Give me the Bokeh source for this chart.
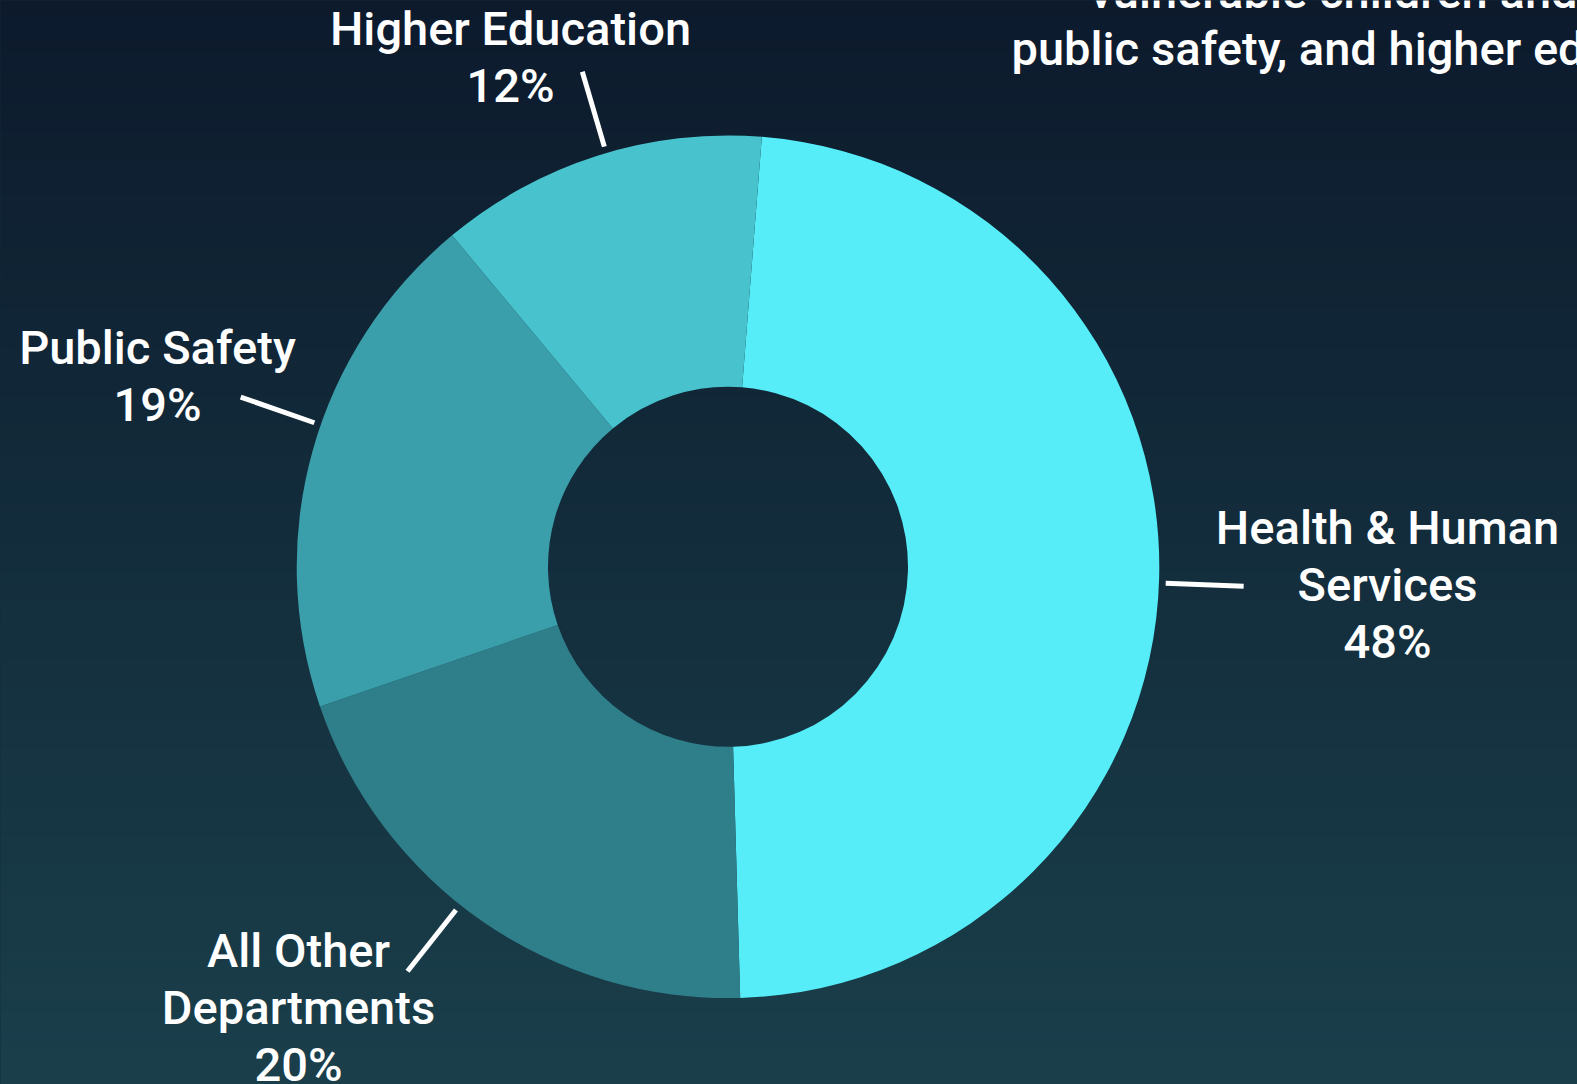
import numpy as np
from jinja2 import Template
from bokeh.plotting import figure
from bokeh.models import Range1d, ColumnDataSource
from bokeh.core.properties import value
from bokeh.embed import file_html
from bokeh.resources import INLINE

# ---------------- data ----------------
categories = ["Health & Human Services", "All Other Departments", "Public Safety", "Higher Education"]
shares = [48.3, 20.2, 19.2, 12.3]          # percent of total
pct_labels = ["48%", "20%", "19%", "12%"]
label_text = [["Health & Human", "Services"], ["All Other", "Departments"], ["Public Safety"], ["Higher Education"]]
title_lines = ["vulnerable children and families,", "public safety, and higher education."]

# ---------------- style / layout ----------------
colors = ["#57edf8", "#2f7f8b", "#3a9fab", "#48c2cc"]
W, H = 1577, 1084               # canvas (screen px)
CX, CY = 727.5, 566.3           # donut centre in screen px
R_OUT, R_IN = 431.3, 180.0
START_CW = 4.5                  # first slice starts this many degrees clockwise from 12 o'clock
FONT = value("Roboto Medium, Roboto")
FS = "47px"
LINE_H = 57
# label anchor: centre x and baseline y (screen px) of the first line
label_pos = [(1387, 527), (298, 950), (157, 347), (510, 28)]
leader_angle_cw = [92.15, 218.4, 289.2, 343.6]
LEAD_R0, LEAD_R1 = 438, 516

def sy(y):  # screen y -> data y
    return H - y

p = figure(width=W, height=H, output_backend="svg", toolbar_location=None,
           x_range=Range1d(0, W), y_range=Range1d(0, H), min_border=0)
p.axis.visible = False
p.grid.visible = False
p.outline_line_color = None
p.background_fill_color = "#132c3b"
p.border_fill_color = "#132c3b"

# background gradient
N = H
rows_sy = H - (np.arange(N) + 0.5)
t = rows_sy / H
top = np.array([12, 26, 44], dtype=float)
bot = np.array([26, 63, 75], dtype=float)
rgb = top[None, :] + (bot - top)[None, :] * t[:, None]
img = np.empty((N, 1), dtype=np.uint32)
view = img.view(dtype=np.uint8).reshape((N, 1, 4))
view[:, 0, 0:3] = np.round(rgb).astype(np.uint8)
view[:, 0, 3] = 255
p.image_rgba(image=[img], x=0, y=0, dw=W, dh=H)

# donut
cum = START_CW + np.concatenate([[0], np.cumsum(shares)]) / 100.0 * 360.0
start_math = np.radians(90 - cum[:-1])
end_math = np.radians(90 - cum[1:])
src = ColumnDataSource(dict(cat=categories, start=start_math, end=end_math, color=colors))
p.annular_wedge(x=CX, y=sy(CY), inner_radius=R_IN, outer_radius=R_OUT,
                start_angle="start", end_angle="end", direction="clock",
                fill_color="color", line_color=None, source=src)

# leader lines
a = np.radians(90 - np.array(leader_angle_cw))
x0 = CX + LEAD_R0 * np.cos(a); y0 = sy(CY) + LEAD_R0 * np.sin(a)
x1 = CX + LEAD_R1 * np.cos(a); y1 = sy(CY) + LEAD_R1 * np.sin(a)
p.segment(x0=x0, y0=y0, x1=x1, y1=y1, line_color="white", line_width=5, line_cap="butt")

# labels
lx, ly, lt = [], [], []
for (cx, by), lines, pct in zip(label_pos, label_text, pct_labels):
    for i, s in enumerate(lines + [pct]):
        lx.append(cx); ly.append(sy(by + i * LINE_H)); lt.append(s)
p.text(x=lx, y=ly, text=lt, text_color="white", text_font=FONT, text_font_size=FS,
       text_align="center", text_baseline="alphabetic")

# title fragment (runs off the right edge)
p.text(x=[1089, 1011], y=[sy(-9), sy(48)], text=title_lines, text_color="white",
       text_font=FONT, text_font_size=FS, text_align="left", text_baseline="alphabetic")

tmpl = Template("""{% extends base %}
{% block preamble %}<style>html, body { background: linear-gradient(#0c1a2c, #1a3f4b); min-height: 100%; }</style>{% endblock %}""")
open("out.html", "w").write(file_html(p, INLINE, title="Budget by department", template=tmpl))
